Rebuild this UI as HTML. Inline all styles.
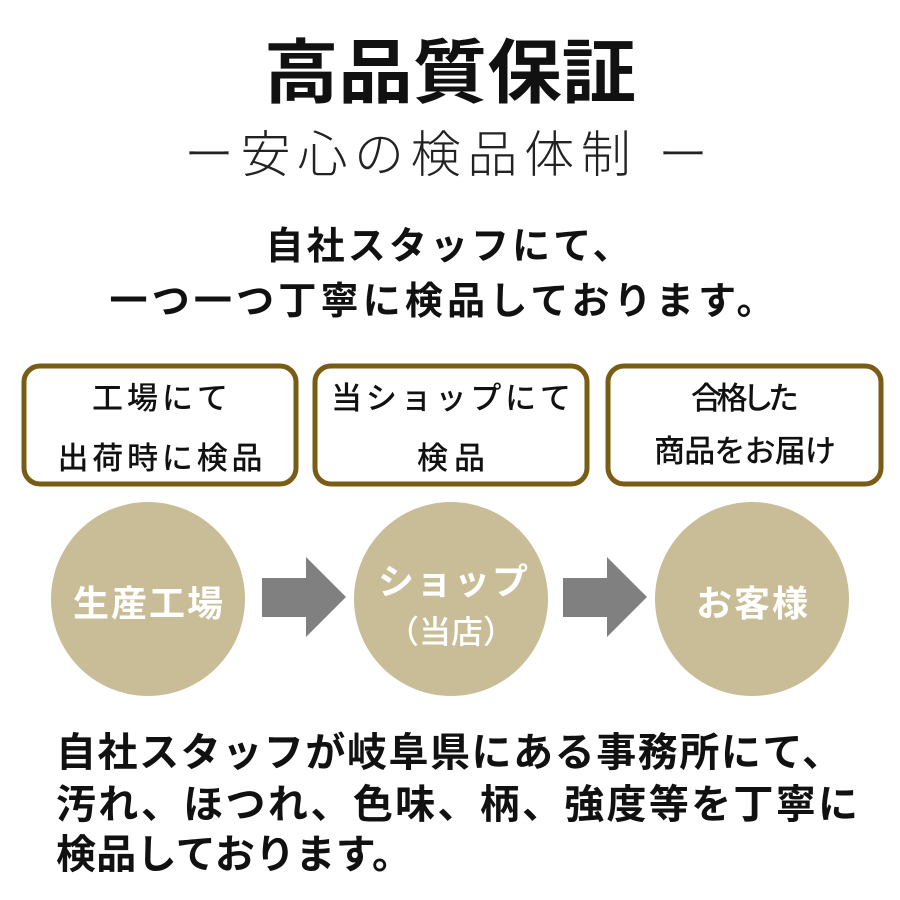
<!DOCTYPE html>
<html><head><meta charset="utf-8"><style>
html,body{margin:0;padding:0;background:#fff;}
svg{display:block;}
text{font-family:"Liberation Sans","Noto Sans CJK JP",sans-serif;}
</style></head><body>
<svg width="900" height="900" viewBox="0 0 900 900" xmlns="http://www.w3.org/2000/svg">
<rect width="900" height="900" fill="#fff"/>
<text x="450" y="97" font-size="70" font-weight="700" text-anchor="middle" textLength="372" lengthAdjust="spacingAndGlyphs" fill="#111">高品質保証</text>
<text x="446" y="172" font-size="50" font-weight="300" text-anchor="middle" textLength="524" lengthAdjust="spacing" fill="#222">ー安心の検品体制 ー</text>
<text x="448" y="259" font-size="38" font-weight="700" text-anchor="middle" textLength="365" lengthAdjust="spacing" fill="#111">自社スタッフにて、</text>
<text x="442" y="314" font-size="38" font-weight="700" text-anchor="middle" textLength="665" lengthAdjust="spacing" fill="#111">一つ一つ丁寧に検品しております。</text>

<g fill="#fff" stroke="#7a5d14" stroke-width="5">
<rect x="24" y="366" width="272" height="118" rx="16"/>
<rect x="315" y="366" width="272" height="118" rx="16"/>
<rect x="608" y="366" width="273" height="118" rx="16"/>
</g>
<g font-size="31" font-weight="500" text-anchor="middle" fill="#111">
<text x="160" y="409" textLength="136" lengthAdjust="spacing">工場にて</text>
<text x="160" y="469" textLength="205" lengthAdjust="spacing">出荷時に検品</text>
<text x="451" y="409" textLength="240" lengthAdjust="spacing">当ショップにて</text>
<text x="451" y="469" textLength="68" lengthAdjust="spacing">検品</text>
<text x="745" y="409" textLength="108" lengthAdjust="spacing">合格した</text>
<text x="745" y="462" textLength="182" lengthAdjust="spacing">商品をお届け</text>
</g>

<g fill="#c8bd97">
<circle cx="148" cy="599" r="97"/>
<circle cx="451" cy="599" r="97"/>
<circle cx="752" cy="599" r="97"/>
</g>
<g fill="#808080">
<polygon points="262,578 306,578 306,557 346,597 306,637 306,617 262,617"/>
<polygon points="563,578 607,578 607,557 647,597 607,637 607,617 563,617"/>
</g>
<g font-size="36" font-weight="700" text-anchor="middle" fill="#fff">
<text x="148" y="616" textLength="150" lengthAdjust="spacing">生産工場</text>
<text x="453" y="594" textLength="150" lengthAdjust="spacing">ショップ</text>
<text x="451" y="643" font-size="32" font-weight="500">（当店）</text>
<text x="752" y="616" textLength="112" lengthAdjust="spacing">お客様</text>
</g>

<g font-size="40" font-weight="700" fill="#111">
<text x="56" y="766" textLength="786" lengthAdjust="spacing">自社スタッフが岐阜県にある事務所にて、</text>
<text x="56" y="818" textLength="802" lengthAdjust="spacing">汚れ、ほつれ、色味、柄、強度等を丁寧に</text>
<text x="56" y="868" textLength="356" lengthAdjust="spacing">検品しております。</text>
</g>
</svg>
</body></html>
